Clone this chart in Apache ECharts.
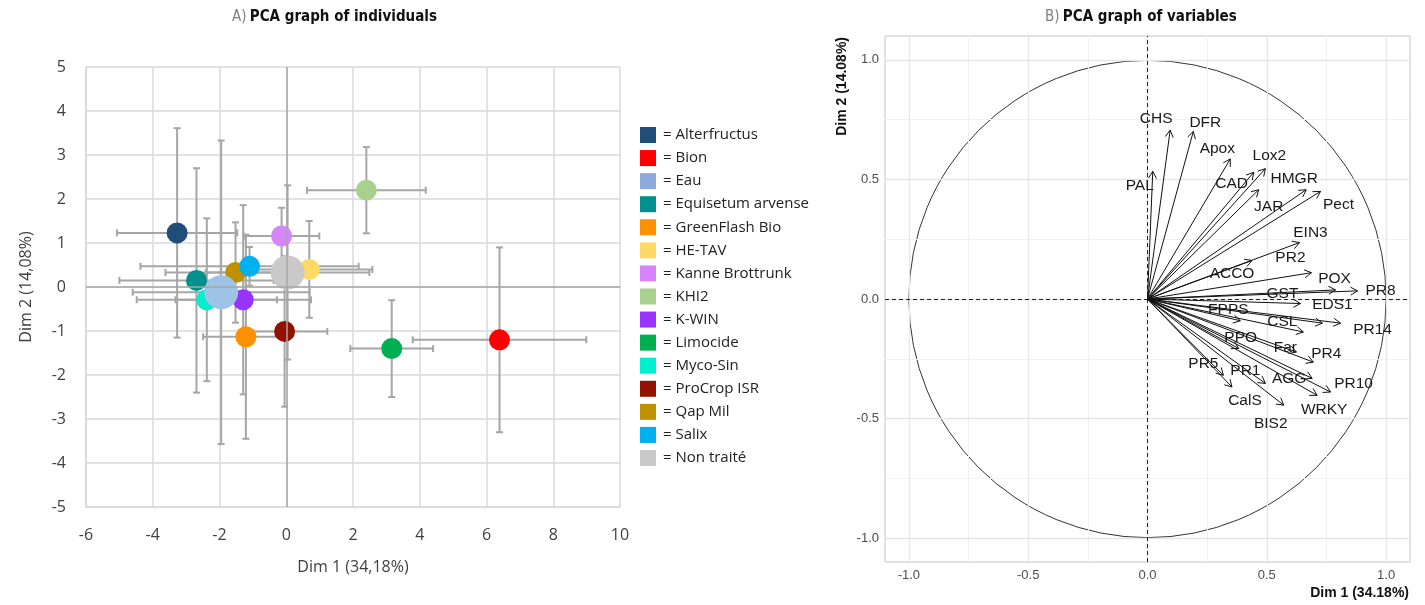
<!DOCTYPE html>
<html>
<head>
<meta charset="utf-8">
<script src="https://cdn.jsdelivr.net/npm/echarts@6/dist/echarts.min.js"></script>
<style>
  html, body { margin: 0; padding: 0; background: #fff; }
  #chart { width: 1425px; height: 605px; }
</style>
</head>
<body>
<div id="chart"></div>
<script>
// ---- Panel A: individuals (treatment means on Dim 1 / Dim 2 with error bars)
const treatments = ['Alterfructus', 'Bion', 'Eau', 'Equisetum arvense', 'GreenFlash Bio', 'HE-TAV',
  'Kanne Brottrunk', 'KHI2', 'K-WIN', 'Limocide', 'Myco-Sin', 'ProCrop ISR', 'Qap Mil', 'Salix', 'Non traité'];
const dim1Mean = [-3.27, 6.39, -1.95, -2.69, -1.21, 0.69, -0.14, 2.40, -1.29, 3.16, -2.38, -0.05, -1.52, -1.10, 0.04];
const dim2Mean = [1.23, -1.20, -0.12, 0.15, -1.13, 0.40, 1.16, 2.20, -0.29, -1.40, -0.29, -1.01, 0.33, 0.47, 0.33];
const dim1Err  = [1.80, 2.60, 2.65, 2.31, 1.28, 1.89, 1.13, 1.78, 2.03, 1.24, 2.10, 1.28, 2.10, 3.27, 2.45];
const dim2Err  = [2.38, 2.10, 3.45, 2.55, 2.32, 1.10, 0.64, 0.98, 2.15, 1.10, 1.85, 1.71, 1.14, 0.44, 1.98];
const treatmentColors = ['#1F4E79', '#FF0000', '#9DC3E6', '#00918E', '#FF9000', '#FFD966',
  '#D884FD', '#A9D18E', '#9933FF', '#00B050', '#00EFCF', '#921100', '#BF9000', '#00B0F0', '#C9C9C9'];
const controlGroups = ['Eau', 'Non traité'];   // drawn larger and on top

// ---- Panel B: variables (loadings on Dim 1 / Dim 2)
const variables = ['PAL', 'CHS', 'DFR', 'Apox', 'Lox2', 'CAD', 'HMGR', 'JAR', 'Pect', 'EIN3', 'PR2', 'ACCO',
  'POX', 'PR8', 'GST', 'EDS1', 'FPPS', 'CSL', 'PR14', 'PPO', 'Far', 'PR4', 'PR5', 'PR1', 'CalS', 'BIS2',
  'AGG', 'WRKY', 'PR10'];
const loadDim1 = [0.022, 0.095, 0.192, 0.347, 0.494, 0.445, 0.665, 0.466, 0.725, 0.637, 0.687, 0.438,
  0.788, 0.880, 0.641, 0.733, 0.389, 0.653, 0.809, 0.382, 0.624, 0.695, 0.318, 0.494, 0.354, 0.571,
  0.690, 0.711, 0.767];
const loadDim2 = [0.534, 0.706, 0.701, 0.586, 0.545, 0.530, 0.457, 0.457, 0.450, 0.236, 0.110, 0.161,
  0.038, 0.034, -0.019, -0.101, -0.091, -0.138, -0.101, -0.207, -0.222, -0.264, -0.319, -0.353, -0.368, -0.444,
  -0.332, -0.403, -0.389];

// Axis ticks
const ticksB = [-1, -0.5, 0, 0.5, 1];
const minorTicksB = [-0.75, -0.25, 0.25, 0.75];

// Label placement (pixel nudges from each arrow tip)
const labelNudge = {
  PAL: [-13, 14], CHS: [-14, -11], DFR: [12, -9], Apox: [-13, -10], Lox2: [4, -13], CAD: [-22, 11],
  HMGR: [-12, -11], JAR: [10, 17], Pect: [18, 13], EIN3: [11, -10], PR2: [-21, -15], ACCO: [-20, 13],
  POX: [-1, -11], PR8: [23, 0], GST: [-18, -10], EDS1: [10, -18], FPPS: [-12, -11], CSL: [-21, -10],
  PR14: [32, 7], PPO: [2, -11], Far: [-11, -4], PR4: [13, -8], PR5: [-20, -12], PR1: [-20, -13],
  CalS: [13, 14], BIS2: [-13, 19], AGG: [-23, 0], WRKY: [7, 14], PR10: [23, -8]
};

const chart = echarts.init(document.getElementById('chart'), null, { renderer: 'canvas' });

const fontA = '"Open Sans", "DejaVu Sans", sans-serif';
const fontB = '"Liberation Sans", Arial, sans-serif';
const titleFont = '"Liberation Sans Narrow", "DejaVu Sans Condensed", "Liberation Sans", sans-serif';

// error bars with caps
const errorBarSeries = {
  type: 'custom',
  name: 'errors',
  xAxisIndex: 0, yAxisIndex: 0,
  z: 1,
  silent: true,
  data: treatments.map((t, i) => [dim1Mean[i], dim2Mean[i], dim1Err[i], dim2Err[i]]),
  encode: { x: 0, y: 1 },
  renderItem(params, api) {
    const x = api.value(0), y = api.value(1), ex = api.value(2), ey = api.value(3);
    const l = api.coord([x - ex, y]), r = api.coord([x + ex, y]);
    const t = api.coord([x, y + ey]), b = api.coord([x, y - ey]);
    const c = 3.5;
    const style = { stroke: '#A6A6A6', lineWidth: 2 };
    const seg = (x1, y1, x2, y2) => ({ type: 'line', shape: { x1, y1, x2, y2 }, style });
    return {
      type: 'group',
      children: [
        seg(l[0], l[1], r[0], r[1]),
        seg(l[0], l[1] - c, l[0], l[1] + c),
        seg(r[0], r[1] - c, r[0], r[1] + c),
        seg(t[0], t[1], b[0], b[1]),
        seg(t[0] - c, t[1], t[0] + c, t[1]),
        seg(b[0] - c, b[1], b[0] + c, b[1])
      ]
    };
  },
  markLine: {
    silent: true,
    symbol: 'none',
    label: { show: false },
    lineStyle: { color: '#A6A6A6', width: 1.5, type: 'solid' },
    data: [{ xAxis: 0 }, { yAxis: 0 }]
  }
};

const pointSeries = treatments.map((name, i) => {
  const big = controlGroups.includes(name);
  return {
    type: 'scatter',
    name,
    xAxisIndex: 0, yAxisIndex: 0,
    z: big ? 4 : 3,
    symbol: 'circle',
    symbolSize: big ? 34 : 21,
    itemStyle: { color: treatmentColors[i], opacity: 1 },
    emphasis: { disabled: true },
    data: [[dim1Mean[i], dim2Mean[i]]]
  };
});

// unit correlation circle, reference grid and dashed axes of panel B
const circleSeries = {
  type: 'custom',
  name: 'circle',
  xAxisIndex: 1, yAxisIndex: 1,
  silent: true,
  z: 2,
  data: [[0, 0, 1]],
  renderItem(params, api) {
    const c = api.coord([0, 0]);
    const e = api.coord([api.value(2), 0]);
    return {
      type: 'circle',
      shape: { cx: c[0], cy: c[1], r: e[0] - c[0] },
      style: { fill: 'none', stroke: '#333', lineWidth: 1 }
    };
  },
  markLine: {
    silent: true,
    symbol: 'none',
    label: { show: false },
    animation: false,
    data: [
      ...minorTicksB.map(v => ({ xAxis: v, lineStyle: { color: '#F1F1F1', width: 1, type: 'solid' } })),
      ...minorTicksB.map(v => ({ yAxis: v, lineStyle: { color: '#F1F1F1', width: 1, type: 'solid' } })),
      ...ticksB.map(v => ({ xAxis: v, lineStyle: { color: '#E6E6E6', width: 1.3, type: 'solid' } })),
      ...ticksB.map(v => ({ yAxis: v, lineStyle: { color: '#E6E6E6', width: 1.3, type: 'solid' } })),
      { xAxis: 0, lineStyle: { color: '#222', width: 1, type: [4, 3] } },
      { yAxis: 0, lineStyle: { color: '#222', width: 1, type: [4, 3] } }
    ]
  }
};

const arrowSeries = {
  type: 'custom',
  name: 'variables',
  xAxisIndex: 1, yAxisIndex: 1,
  silent: true,
  z: 5,
  data: variables.map((v, i) => [loadDim1[i], loadDim2[i], i]),
  encode: { x: 0, y: 1 },
  renderItem(params, api) {
    const o = api.coord([0, 0]);
    const p = api.coord([api.value(0), api.value(1)]);
    const name = variables[api.value(2)];
    const ang = Math.atan2(p[1] - o[1], p[0] - o[0]);
    const L = 8, A = Math.PI / 6;
    const h1 = [p[0] - L * Math.cos(ang - A), p[1] - L * Math.sin(ang - A)];
    const h2 = [p[0] - L * Math.cos(ang + A), p[1] - L * Math.sin(ang + A)];
    const nudge = labelNudge[name] || [0, -10];
    const stroke = { stroke: '#111', lineWidth: 1, fill: 'none' };
    return {
      type: 'group',
      children: [
        { type: 'line', shape: { x1: o[0], y1: o[1], x2: p[0], y2: p[1] }, style: stroke },
        { type: 'polyline', shape: { points: [h1, p, h2] }, style: stroke },
        {
          type: 'text',
          style: {
            text: name, x: p[0] + nudge[0], y: p[1] + nudge[1],
            align: 'center', verticalAlign: 'middle',
            fill: '#1A1A1A', font: '15.5px ' + fontB
          }
        }
      ]
    };
  }
};

const option = {
  animation: false,
  backgroundColor: '#ffffff',
  grid: [
    { left: 86, top: 67, width: 534, height: 440, show: false },
    { left: 885, top: 36, width: 525, height: 526, show: true, borderColor: '#C4C4C4', borderWidth: 1, backgroundColor: 'transparent' }
  ],
  xAxis: [
    {
      gridIndex: 0, type: 'value', min: -6, max: 10, interval: 2,
      name: 'Dim 1 (34,18%)', nameLocation: 'middle', nameGap: 52,
      nameTextStyle: { fontSize: 16, color: '#404040', fontFamily: fontA },
      axisLine: { show: true, onZero: false, lineStyle: { color: '#D9D9D9', width: 1.5 } },
      axisTick: { show: false },
      axisLabel: { fontSize: 16, color: '#404040', margin: 20, fontFamily: fontA },
      splitLine: { show: true, lineStyle: { color: '#D9D9D9', width: 1.5 } }
    },
    {
      gridIndex: 1, type: 'value', min: -1.1, max: 1.1,
      axisLine: { show: false },
      axisTick: { show: true, customValues: ticksB, length: 3, lineStyle: { color: '#C4C4C4' } },
      axisLabel: { customValues: ticksB, formatter: v => v.toFixed(1), fontSize: 13, color: '#4D4D4D', margin: 7, fontFamily: fontB },
      splitLine: { show: false }
    }
  ],
  yAxis: [
    {
      gridIndex: 0, type: 'value', min: -5, max: 5, interval: 1,
      name: 'Dim 2 (14,08%)', nameLocation: 'middle', nameGap: 52,
      nameTextStyle: { fontSize: 16, color: '#404040', fontFamily: fontA },
      axisLine: { show: true, onZero: false, lineStyle: { color: '#D9D9D9', width: 1.5 } },
      axisTick: { show: false },
      axisLabel: { fontSize: 16, color: '#404040', margin: 20, fontFamily: fontA },
      splitLine: { show: true, lineStyle: { color: '#D9D9D9', width: 1.5 } }
    },
    {
      gridIndex: 1, type: 'value', min: -1.1, max: 1.1,
      axisLine: { show: false },
      axisTick: { show: true, customValues: ticksB, length: 3, lineStyle: { color: '#C4C4C4' } },
      axisLabel: { customValues: ticksB, formatter: v => v.toFixed(1), fontSize: 13, color: '#4D4D4D', margin: 6, fontFamily: fontB },
      splitLine: { show: false }
    }
  ],
  legend: {
    orient: 'vertical',
    left: 635, top: 122,
    itemWidth: 16, itemHeight: 16, itemGap: 7.07,
    icon: 'rect',
    selectedMode: false,
    formatter: name => '= ' + name,
    textStyle: { fontSize: 15, color: '#222', fontFamily: fontA, lineHeight: 16, padding: [0, 0, 0, 2] },
    data: treatments.map((name, i) => (
      name === 'Eau' ? { name, itemStyle: { color: '#8EA9DB' } } : { name }
    ))
  },
  graphic: [
    {
      type: 'text', left: 232, top: 10,
      style: {
        text: '{a|A)} {b|PCA graph of individuals}',
        rich: {
          a: { font: '15px ' + titleFont, fill: '#808080' },
          b: { font: 'bold 15px ' + titleFont, fill: '#111' }
        }
      }
    },
    {
      type: 'text', left: 1045, top: 10,
      style: {
        text: '{a|B)} {b|PCA graph of variables}',
        rich: {
          a: { font: '15px ' + titleFont, fill: '#808080' },
          b: { font: 'bold 15px ' + titleFont, fill: '#111' }
        }
      }
    },
    {
      type: 'text', x: 842, y: 37, rotation: Math.PI / 2,
      style: {
        text: 'Dim 2 (14.08%)', font: 'bold 14px ' + fontB, fill: '#111',
        align: 'right', verticalAlign: 'middle'
      }
    },
    {
      type: 'text', x: 1409, y: 593,
      style: {
        text: 'Dim 1 (34.18%)', font: 'bold 14px ' + fontB, fill: '#111',
        align: 'right', verticalAlign: 'middle'
      }
    }
  ],
  series: [errorBarSeries, ...pointSeries, circleSeries, arrowSeries]
};

chart.setOption(option);
</script>
</body>
</html>
